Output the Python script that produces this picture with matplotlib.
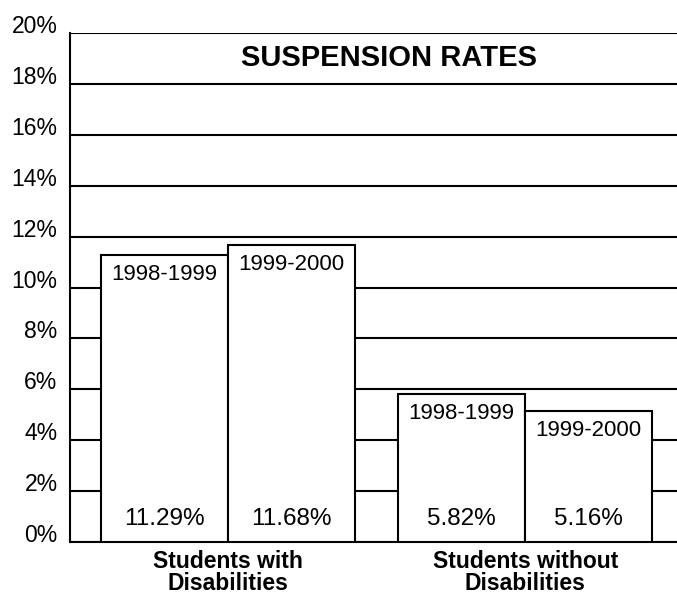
import matplotlib
matplotlib.use("Agg")
import matplotlib.pyplot as plt
from matplotlib.transforms import blended_transform_factory

plt.rcParams["font.family"] = ["Liberation Sans", "DejaVu Sans"]

# ── Data ──────────────────────────────────────────────────────────────────────
groups = ["Students with\nDisabilities", "Students without\nDisabilities"]
years = ["1998-1999", "1999-2000"]
rates_with = [11.29, 11.68]
rates_without = [5.82, 5.16]
y_ticks = [0, 2, 4, 6, 8, 10, 12, 14, 16, 18, 20]
title = "SUSPENSION RATES"

# ── Plot ──────────────────────────────────────────────────────────────────────
fig = plt.figure(figsize=(6.77, 5.96), dpi=100)
ax = fig.add_axes([0.1034, 0.0906, 0.8966, 0.854])

width = 1.0
centers = [0.0, 2.34]
series = [rates_with, rates_without]

for c, vals in zip(centers, series):
    for bi, (yr, v) in enumerate(zip(years, vals)):
        x = c + (bi - 0.5) * width
        ax.bar(x, v, width=width, color="white", edgecolor="black",
               linewidth=1.5, zorder=3)
        ax.annotate(yr, (x, v), xytext=(0, -14), textcoords="offset points",
                    ha="center", va="center", fontsize=16, zorder=4)
        ax.annotate(f"{v:.2f}%", (x, 0), xytext=(0, 16.5),
                    textcoords="offset points", ha="center", va="center",
                    fontsize=17.5, zorder=4)

ax.set_xlim(-1.244, 3.535)
ax.set_ylim(0, 20)
ax.set_yticks(y_ticks)
ax.set_yticklabels([f"{t}%" for t in y_ticks], fontsize=16.5)
ax.set_xticks(centers)
ax.set_xticklabels(groups, fontsize=16.5, fontweight="bold", linespacing=0.9)
ax.tick_params(axis="y", length=0, pad=9)
ax.tick_params(axis="x", length=0, pad=6)
plt.setp(ax.get_yticklabels(), va="baseline")

ax.yaxis.grid(True, color="black", linewidth=1.5)
ax.set_axisbelow(True)
for side in ("top", "right"):
    ax.spines[side].set_visible(False)
for side in ("left", "bottom"):
    ax.spines[side].set_linewidth(1.5)

ax.text(0.525, 19, title,
        transform=blended_transform_factory(ax.transAxes, ax.transData),
        ha="center", va="center", fontsize=21, fontweight="bold")

fig.savefig("out.png", dpi=100)
